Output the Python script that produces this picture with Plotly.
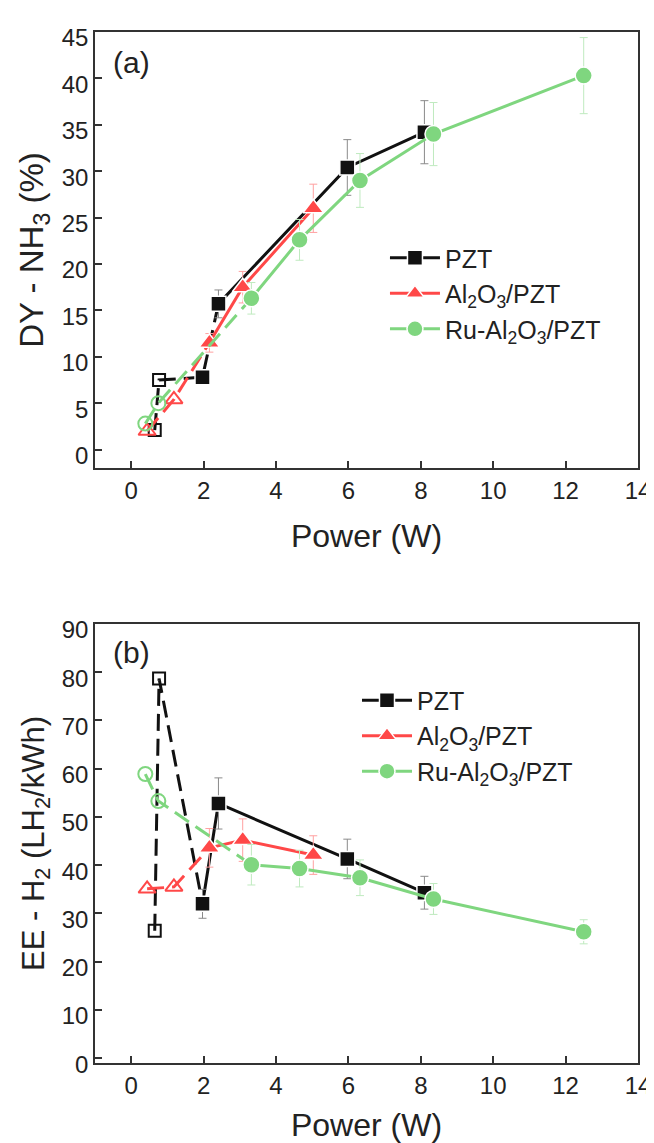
import plotly.graph_objects as go

# power (W) of each sample point; open symbols = low-power points
pzt_open_power = [0.65, 0.77]
pzt_power = [1.97, 2.41, 5.97, 8.10]
al_open_power = [0.44, 1.18]
al_power = [2.16, 3.08, 5.03]
ru_open_power = [0.39, 0.75]
ru_power = [3.32, 4.65, 6.32, 8.35, 12.5]

# (a) DY - NH3 (%)
pzt_open_dy = [2.1, 7.5]
pzt_dy = [7.8, 15.7, 30.4, 34.2]
pzt_dy_err = [0.5, 1.5, 3.0, 3.4]
al_open_dy = [2.0, 5.4]
al_dy = [11.5, 17.5, 26.0]
al_dy_err = [1.0, 1.7, 2.6]
ru_open_dy = [2.8, 5.0]
ru_dy = [16.3, 22.6, 29.0, 34.0, 40.3]
ru_dy_err = [1.7, 2.2, 2.9, 3.4, 4.1]

# (b) EE - H2 (LH2/kWh)
pzt_open_ee = [26.4, 78.7]
pzt_ee = [32.0, 52.8, 41.3, 34.3]
pzt_ee_err = [3.0, 5.3, 4.1, 3.4]
al_open_ee = [35.1, 35.5]
al_ee = [43.6, 45.2, 42.1]
al_ee_err = [4.0, 4.4, 4.0]
ru_open_ee = [58.9, 53.3]
ru_ee = [40.1, 39.3, 37.4, 33.0, 26.2]
ru_ee_err = [4.2, 3.8, 3.7, 3.2, 2.5]

names = ["PZT", "Al<sub>2</sub>O<sub>3</sub>/PZT", "Ru-Al<sub>2</sub>O<sub>3</sub>/PZT"]
colors = ["#111111", "#ff4848", "#7fd67f"]
err_colors = ["#8a8a8a", "#ffa0a0", "#bfeabf"]
symbols = ["square", "triangle-up", "circle"]
sizes = [15, 18, 17]
FONT = "Arial, Liberation Sans, sans-serif"
TXT = "#222222"

fig = go.Figure()


def add_series(i, xo, yo, xf, yf, err, n_dash, xa, ya):
    c = colors[i]
    # dashed part: open points up to the first filled one(s)
    fig.add_trace(go.Scatter(
        x=xo + xf[:n_dash], y=yo + yf[:n_dash], mode="lines",
        line=dict(color=c, width=3, dash="17px,8px"),
        xaxis=xa, yaxis=ya, showlegend=False, hoverinfo="skip"))
    # solid part
    fig.add_trace(go.Scatter(
        x=xf[n_dash - 1:], y=yf[n_dash - 1:], mode="lines",
        line=dict(color=c, width=3),
        xaxis=xa, yaxis=ya, showlegend=False, hoverinfo="skip"))
    fig.add_trace(go.Scatter(
        x=xo, y=yo, mode="markers",
        marker=dict(symbol=symbols[i] + "-open", size=sizes[i] - 3, color=c,
                    line=dict(color=c, width=2)),
        xaxis=xa, yaxis=ya, showlegend=False))
    fig.add_trace(go.Scatter(
        x=xf, y=yf, mode="markers",
        marker=dict(symbol=symbols[i], size=sizes[i], color=c,
                    line=dict(color="white", width=1.5)),
        error_y=dict(type="data", array=err, color=err_colors[i],
                     thickness=1, width=4),
        xaxis=xa, yaxis=ya, showlegend=False))


series_a = [
    (pzt_open_power, pzt_open_dy, pzt_power, pzt_dy, pzt_dy_err, 2),
    (al_open_power, al_open_dy, al_power, al_dy, al_dy_err, 1),
    (ru_open_power, ru_open_dy, ru_power, ru_dy, ru_dy_err, 1),
]
series_b = [
    (pzt_open_power, pzt_open_ee, pzt_power, pzt_ee, pzt_ee_err, 1),
    (al_open_power, al_open_ee, al_power, al_ee, al_ee_err, 1),
    (ru_open_power, ru_open_ee, ru_power, ru_ee, ru_ee_err, 1),
]
for i, s in enumerate(series_a):
    add_series(i, *s, "x", "y")
for i, s in enumerate(series_b):
    add_series(i, *s, "x2", "y2")

# legend entries
for leg in ["legend", "legend2"]:
    for i in range(3):
        fig.add_trace(go.Scatter(
            x=[None], y=[None], mode="lines+markers", name=names[i],
            line=dict(color=colors[i], width=3),
            marker=dict(symbol=symbols[i], size=sizes[i], color=colors[i],
                        line=dict(color="white", width=1.5)),
            legend=leg, legendgroup=leg + str(i),
            xaxis="x" if leg == "legend" else "x2",
            yaxis="y" if leg == "legend" else "y2"))

axis_common = dict(
    showline=True, mirror=True, linecolor="#333333", linewidth=1.5,
    ticks="inside", ticklen=7, tickwidth=1.5, tickcolor="#333333",
    showgrid=False, zeroline=False, automargin=False, ticklabeloverflow="allow",
    tickfont=dict(family=FONT, size=24, color=TXT),
)
xcommon = dict(axis_common, range=[-1, 14], tickvals=list(range(0, 15, 2)),
               ticklabelstandoff=0,
               title=dict(text="Power (W)", font=dict(family=FONT, size=32, color=TXT),
                          standoff=22))

# page body adds an 8 px margin at the left/top
fig.update_layout(
    width=654, height=1135,
    margin=dict(l=87, r=24, t=24, b=80),
    paper_bgcolor="white", plot_bgcolor="white",
    font=dict(family=FONT, color=TXT),
    xaxis=dict(xcommon, anchor="y", domain=[0, 1]),
    yaxis=dict(axis_common, anchor="x", domain=[0.577, 1.0], range=[-2, 45],
               tickvals=list(range(0, 46, 5)), ticklabelshift=6,
               title=dict(text="DY - NH<sub>3</sub> (%)",
                          font=dict(family=FONT, size=33, color=TXT), standoff=8)),
    xaxis2=dict(xcommon, anchor="y2", domain=[0, 1]),
    yaxis2=dict(axis_common, anchor="x2", domain=[0.0, 0.4258], range=[-1, 90],
                tickvals=list(range(0, 91, 10)), ticklabelshift=6,
                title=dict(text="EE - H<sub>2</sub> (LH<sub>2</sub>/kWh)",
                           font=dict(family=FONT, size=31, color=TXT), standoff=8)),
    legend=dict(x=0.534, y=0.803, xanchor="left", yanchor="top",
                bgcolor="rgba(0,0,0,0)", font=dict(family=FONT, size=25, color=TXT),
                tracegroupgap=0, itemwidth=50),
    legend2=dict(x=0.4825, y=0.374, xanchor="left", yanchor="top",
                 bgcolor="rgba(0,0,0,0)", font=dict(family=FONT, size=25, color=TXT),
                 tracegroupgap=0, itemwidth=50),
    annotations=[
        dict(text="(a)", xref="x domain", yref="y domain", x=0.068, y=0.931,
             xanchor="center", yanchor="middle",
             showarrow=False, font=dict(family=FONT, size=30, color=TXT)),
        dict(text="(b)", xref="x2 domain", yref="y2 domain", x=0.068, y=0.934,
             xanchor="center", yanchor="middle",
             showarrow=False, font=dict(family=FONT, size=30, color=TXT)),
    ],
)

fig.write_html("out.html")
